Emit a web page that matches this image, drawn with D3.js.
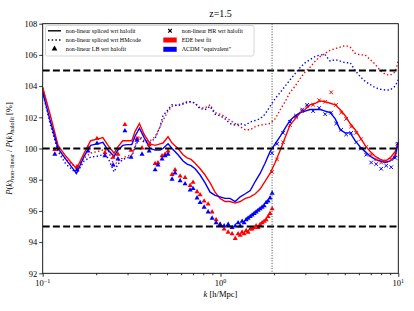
<!DOCTYPE html>
<html><head><meta charset="utf-8">
<script src="https://cdn.jsdelivr.net/npm/d3@7"></script>
<style>
body{margin:0;background:#fff;}
svg text{font-family:"Liberation Serif","DejaVu Serif",serif;fill:#000;}
</style></head>
<body><svg id="c" width="414" height="311"></svg>
<script>
// ---------- data ----------
const title = "z=1.5";
const kGrid = [0.1,0.110,0.122,0.135,0.155,0.171,0.186,0.202,0.218,0.233,0.252,0.265,0.282,0.298,0.317,0.331,0.350,0.372,0.402,0.429,0.457,0.475,0.507,0.534,0.577,0.616,0.649,0.683,0.720,0.768,0.819,0.874,0.932,0.995,1.06,1.13,1.21,1.29,1.38,1.47,1.57,1.67,1.78,1.90,2.03,2.17,2.31,2.46,2.63,2.81,2.99,3.19,3.41,3.64,3.88,4.14,4.42,4.71,5.03,5.36,5.72,6.11,6.51,6.95,7.41,7.91,8.44,9.00,9.60,10];
const edeSplicedHalofit = [103.9,102.2,100.2,99.5,98.7,99.7,100.5,100.6,100.7,100.2,99.7,100.1,100.5,100.5,100.5,101.1,101.6,100.9,100.3,100.2,100.3,100.35,100.75,100.35,100.0,99.6,99.4,99.3,99.05,98.7,98.3,97.8,97.2,96.8,96.6,96.6,96.5,96.6,96.8,96.9,97.1,97.4,97.9,98.4,99.1,99.9,100.7,101.5,101.9,102.3,102.5,102.8,102.9,103.05,103.0,102.9,102.8,102.5,102.1,101.6,101.2,100.7,100.2,99.8,99.5,99.3,99.2,99.4,99.8,100.4];
const lcdmSplicedHalofit = [103.6,101.8,100.0,99.3,98.4,99.5,100.2,100.3,100.4,99.9,99.5,99.9,100.2,100.25,100.25,100.8,101.3,100.7,100.0,99.9,99.9,100.0,100.3,100.0,99.6,99.2,99.0,98.9,98.7,98.3,97.8,97.2,97.0,96.9,96.8,96.8,96.6,96.9,97.1,97.3,97.9,98.4,99.05,99.8,100.3,100.8,101.3,101.8,102.1,102.3,102.4,102.5,102.5,102.5,102.4,102.3,101.9,101.2,101.0,101.0,100.5,100.1,99.8,99.5,99.3,99.2,99.1,99.2,99.5,100.4];
const edeSplicedHMcode = [103.9,102.0,99.9,99.3,98.75,99.4,99.7,99.8,99.9,99.9,98.9,99.2,99.4,99.5,99.6,100.2,100.8,100.5,100.5,100.75,101.4,101.8,102.4,102.7,102.8,102.9,103.0,103.0,102.9,102.6,102.6,102.8,102.3,102.2,102.05,101.8,101.6,101.4,101.2,101.2,101.4,101.5,101.55,101.6,101.9,102.5,103.0,103.6,104.0,104.5,104.9,105.2,105.6,105.9,106.1,106.3,106.4,106.5,106.6,106.5,106.1,106.0,106.0,105.7,105.4,105.0,104.75,104.7,104.9,105.6];
const lcdmSplicedHMcode = [103.6,101.6,99.8,99.0,98.4,99.2,99.45,99.5,99.6,99.4,98.5,99.0,99.3,99.4,99.5,100.1,100.7,100.4,100.4,100.65,101.4,102.1,102.5,102.8,102.75,102.85,102.95,103.0,102.9,102.55,102.5,102.7,102.2,102.1,101.9,101.6,101.5,101.6,101.5,101.7,101.8,101.9,102.2,102.7,103.2,103.6,104.0,104.4,104.8,105.2,105.5,105.7,105.9,106.0,106.0,105.6,105.7,105.6,105.5,105.5,105.0,104.6,104.3,104.1,103.9,103.8,103.75,103.75,104.0,104.4];

const kLB = [0.117,0.156,0.180,0.202,0.224,0.249,0.265,0.290,0.314,0.339,0.362,0.397,0.429,0.445,0.469,0.488,0.507,0.534,0.555,0.593,0.632,0.675,0.701,0.738,0.768,0.809,0.852,0.897,0.945,0.995,1.048,1.104,1.162,1.21,1.256,1.29,1.323,1.358,1.394,1.43,1.47,1.506,1.546,1.586,1.628,1.67,1.714,1.76,1.806,1.853,1.90,1.952];
const edeLB = [99.9,98.8,100.0,100.6,99.7,99.4,99.6,101.5,99.85,100.6,100.0,100.2,99.0,99.05,99.5,99.6,99.8,98.3,98.6,98.2,98.1,97.6,97.8,97.2,97.0,96.6,96.4,95.9,95.4,95.1,94.8,94.6,94.5,94.2,94.5,94.4,94.6,94.5,94.7,94.6,94.8,94.8,94.9,95.0,94.9,95.1,95.2,95.3,95.4,95.6,95.8,96.1];
const lcdmLB = [99.6,98.6,99.8,100.3,99.5,98.9,99.3,101.1,99.4,100.5,99.6,99.8,98.6,98.9,99.3,99.5,99.6,98.0,98.4,97.9,97.7,97.3,97.4,96.8,96.5,96.2,95.9,95.5,95.2,95.1,95.0,95.1,94.9,95.0,95.2,95.0,95.3,95.2,95.4,95.5,95.6,95.7,95.8,95.9,96.0,96.1,96.2,96.3,96.5,96.6,96.8,97.1];

const kHR = [1.95,2.08,2.25,2.46,2.66,2.88,3.07,3.32,3.59,3.88,4.19,4.47,4.77,5.09,5.43,5.80,6.18,6.60,7.04,7.51,8.01,8.55,9.12,9.6,9.9];
const edeHR = [98.5,99.3,100.4,101.5,102.0,102.4,102.7,102.8,103.1,103.0,103.6,102.8,102.3,101.9,101.4,101.0,100.6,100.1,99.6,99.3,99.1,99.2,99.3,99.6,100.2];
const lcdmHR = [99.7,100.3,101.0,101.7,102.1,102.5,102.8,102.4,102.6,102.2,102.3,101.6,101.2,100.9,101.0,100.4,100.0,99.6,99.1,99.0,98.7,98.9,98.8,99.4,100.3];

const refLines = [105,100,95];
const kSplit = 1.95;
const yTicks = [92,94,96,98,100,102,104,106,108];
const xMajor = [0.1,1,10];
const xMajorExp = ["\u22121","0","1"];
const xMinor = [0.2,0.3,0.4,0.5,0.6,0.7,0.8,0.9,2,3,4,5,6,7,8,9];
const legendLeft = ["non-linear spliced wrt halofit","non-linear spliced wrt HMcode","non-linear LB wrt halofit"];
const legendRight = ["non-linear HR wrt halofit","EDE best fit","\u039BCDM \"equivalent\""];
const RED = "#ff0000", BLUE = "#0000ff";

// ---------- chart ----------
const svg = d3.select("#c");
const L = 42.7, R = 398.3, T = 23.7, B = 273.3;
const x = d3.scaleLog().domain([0.1,10]).range([L,R]);
const y = d3.scaleLinear().domain([92,108]).range([B,T]);

const clip = svg.append("defs").append("clipPath").attr("id","pc");
clip.append("rect").attr("x",L).attr("y",T).attr("width",R-L).attr("height",B-T);
const g = svg.append("g").attr("clip-path","url(#pc)");

const line = d3.line().x(d=>x(d[0])).y(d=>y(d[1]));
const zip = (ks,vs)=>ks.map((k,i)=>[k,vs[i]]);

// dotted HMcode
[[edeSplicedHMcode,RED],[lcdmSplicedHMcode,BLUE]].forEach(([v,c])=>{
  g.append("path").attr("d",line(zip(kGrid,v))).attr("fill","none")
   .attr("stroke",c).attr("stroke-width",1.4).attr("stroke-dasharray","1.4,2.3");
});
// solid halofit
[[edeSplicedHalofit,RED],[lcdmSplicedHalofit,BLUE]].forEach(([v,c])=>{
  g.append("path").attr("d",line(zip(kGrid,v))).attr("fill","none")
   .attr("stroke",c).attr("stroke-width",1.4);
});
// LB triangles
const tri = d3.symbol().type(d3.symbolTriangle).size(11);
[[edeLB,RED],[lcdmLB,BLUE]].forEach(([v,c])=>{
  g.selectAll(null).data(zip(kLB,v)).enter().append("path")
   .attr("d",tri).attr("fill",c)
   .attr("transform",d=>`translate(${x(d[0])},${y(d[1])-0.5})`);
});
// HR crosses
const cross = "M-1.8,-1.8L1.8,1.8M-1.8,1.8L1.8,-1.8";
[[edeHR,RED],[lcdmHR,BLUE]].forEach(([v,c])=>{
  g.selectAll(null).data(zip(kHR,v)).enter().append("path")
   .attr("d",cross).attr("stroke",c).attr("stroke-width",1).attr("fill","none")
   .attr("transform",d=>`translate(${x(d[0])},${y(d[1])})`);
});
// reference dashed lines
refLines.forEach(v=>{
  g.append("line").attr("x1",L).attr("x2",R).attr("y1",y(v)).attr("y2",y(v))
   .attr("stroke","#000").attr("stroke-width",2).attr("stroke-dasharray","7,3.2");
});
// vertical split line
g.append("line").attr("x1",x(kSplit)).attr("x2",x(kSplit)).attr("y1",T).attr("y2",B)
 .attr("stroke","#2f4f4f").attr("stroke-width",1).attr("stroke-dasharray","1,1.6");

// axes
const yAx = svg.append("g").attr("transform",`translate(${L},0)`)
  .call(d3.axisLeft(y).tickValues(yTicks).tickSize(3.5).tickPadding(2).tickFormat(d3.format("d")));
const xAx = svg.append("g").attr("transform",`translate(0,${B})`)
  .call(d3.axisBottom(x).tickValues(xMajor).tickSize(3.5).tickPadding(2).tickFormat(()=>""));
const xMin = svg.append("g").attr("transform",`translate(0,${B})`)
  .call(d3.axisBottom(x).tickValues(xMinor).tickSize(2).tickFormat(()=>""));
[yAx,xAx,xMin].forEach(a=>{a.select(".domain").remove(); a.selectAll("line").attr("stroke","#000").attr("stroke-width",0.8);});
yAx.selectAll("text").attr("font-size",8.5).attr("font-family","Liberation Serif").attr("fill","#000");
xMajor.forEach((v,i)=>{
  const t = svg.append("text").attr("x",x(v)).attr("y",B+13).attr("text-anchor","middle").attr("font-size",8.5);
  t.append("tspan").text("10");
  t.append("tspan").attr("dy",-3.5).attr("font-size",6).text(xMajorExp[i]);
});
svg.append("rect").attr("x",L).attr("y",T).attr("width",R-L).attr("height",B-T)
  .attr("fill","none").attr("stroke","#000").attr("stroke-width",0.9);

// title
svg.append("text").attr("x",(L+R)/2).attr("y",17).attr("text-anchor","middle").attr("font-size",10).text(title);
// x label
const xl = svg.append("text").attr("x",(L+R)/2).attr("y",297).attr("text-anchor","middle").attr("font-size",8.5);
xl.append("tspan").attr("font-style","italic").text("k");
xl.append("tspan").text(" [h/Mpc]");
// y label
const yl = svg.append("text").attr("transform",`translate(12,${(T+B)/2}) rotate(-90)`).attr("text-anchor","middle").attr("font-size",8.5);
yl.append("tspan").attr("font-style","italic").text("P");
yl.append("tspan").text("(");
yl.append("tspan").attr("font-style","italic").text("k");
yl.append("tspan").text(")");
yl.append("tspan").attr("font-size",6).attr("dy",2).text("non\u2212linear");
yl.append("tspan").attr("dy",-2).text(" / ");
yl.append("tspan").attr("font-style","italic").text("P");
yl.append("tspan").text("(");
yl.append("tspan").attr("font-style","italic").text("k");
yl.append("tspan").text(")");
yl.append("tspan").attr("font-size",6).attr("dy",2).text("halofit");
yl.append("tspan").attr("dy",-2).text(" [%]");

// legend
const lg = svg.append("g");
lg.append("rect").attr("x",45.5).attr("y",25.5).attr("width",208.5).attr("height",30.5).attr("rx",2)
  .attr("fill","#fff").attr("fill-opacity",0.85).attr("stroke","#ccc").attr("stroke-width",0.8);
const rows = [30.8,40,49.3];
legendLeft.forEach((s,i)=>{
  lg.append("text").attr("x",65.7).attr("y",rows[i]+2).attr("font-size",6).text(s);
});
legendRight.forEach((s,i)=>{
  lg.append("text").attr("x",181.7).attr("y",rows[i]+2).attr("font-size",6).text(s);
});
lg.append("line").attr("x1",48).attr("x2",61).attr("y1",rows[0]).attr("y2",rows[0]).attr("stroke","#000").attr("stroke-width",1.4);
lg.append("line").attr("x1",48).attr("x2",61).attr("y1",rows[1]).attr("y2",rows[1]).attr("stroke","#000").attr("stroke-width",1.4).attr("stroke-dasharray","1.4,2.3");
lg.append("path").attr("d",d3.symbol().type(d3.symbolTriangle).size(14)).attr("fill","#000").attr("transform",`translate(54.5,${rows[2]-0.5})`);
lg.append("path").attr("d",cross).attr("stroke","#000").attr("stroke-width",1.1).attr("transform",`translate(170,${rows[0]})`);
lg.append("rect").attr("x",163.3).attr("y",rows[1]-2.5).attr("width",13.4).attr("height",5).attr("fill",RED);
lg.append("rect").attr("x",163.3).attr("y",rows[2]-2.5).attr("width",13.4).attr("height",5).attr("fill",BLUE);
</script></body></html>
